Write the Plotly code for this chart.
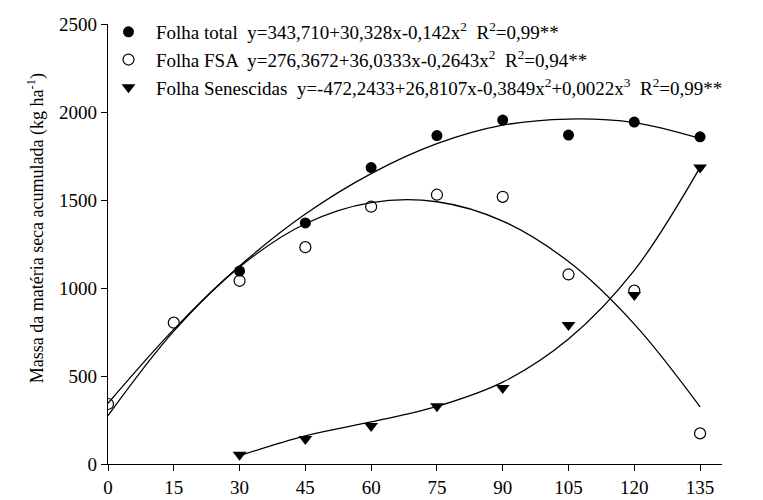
import plotly.graph_objects as go

# Observed data (days, kg/ha)
days = [0, 15, 30, 45, 60, 75, 90, 105, 120, 135]
folha_total = [None, None, 1096, 1370, 1684, 1866, 1954, 1869, 1943, 1859]
folha_fsa = [341, 803, 1041, 1232, 1462, 1530, 1518, 1077, 985, 174]
sen_days = [30, 45, 60, 75, 90, 105, 120, 135]
folha_sen = [52, 142, 216, 328, 432, 790, 960, 1685]

# Fitted curves
fit_days = [0, 15, 30, 45, 60, 75, 90, 105, 120, 135]
total_fit = [345, 765, 1125, 1420, 1650, 1820, 1925, 1960, 1940, 1850]
fsa_fit = [275, 755, 1120, 1365, 1485, 1490, 1380, 1150, 795, 325]
sen_fit_days = [30, 45, 60, 75, 90, 105, 120, 135]
sen_fit = [47, 160, 239, 327, 465, 710, 1100, 1685]

names = [
    "Folha total  y=343,710+30,328x-0,142x<sup>2</sup>  R<sup>2</sup>=0,99**",
    "Folha FSA  y=276,3672+36,0333x-0,2643x<sup>2</sup>  R<sup>2</sup>=0,94**",
    "Folha Senescidas  y=-472,2433+26,8107x-0,3849x<sup>2</sup>+0,0022x<sup>3</sup>  R<sup>2</sup>=0,99**",
]
x_ticks = [0, 15, 30, 45, 60, 75, 90, 105, 120, 135]
y_ticks = [0, 500, 1000, 1500, 2000, 2500]
y_title = "Massa da matéria seca acumulada (kg ha<sup>-1</sup>)"

FONT = "Liberation Serif, Times New Roman, serif"
line_style = dict(color="black", width=1.3, shape="spline", smoothing=1.0)

fig = go.Figure()
fig.add_trace(go.Scatter(x=fit_days, y=total_fit, mode="lines", line=line_style,
                         showlegend=False, hoverinfo="skip"))
fig.add_trace(go.Scatter(x=fit_days, y=fsa_fit, mode="lines", line=line_style,
                         showlegend=False, hoverinfo="skip"))
fig.add_trace(go.Scatter(x=sen_fit_days, y=sen_fit, mode="lines", line=line_style,
                         showlegend=False, hoverinfo="skip"))

fig.add_trace(go.Scatter(x=days, y=folha_total, mode="markers", name=names[0],
                         marker=dict(symbol="circle", size=11, color="black")))
fig.add_trace(go.Scatter(x=days, y=folha_fsa, mode="markers", name=names[1],
                         marker=dict(symbol="circle-open", size=11, color="black",
                                     line=dict(width=1.2, color="black"))))
fig.add_trace(go.Scatter(x=sen_days, y=folha_sen, mode="markers", name=names[2],
                         marker=dict(symbol="triangle-down", size=12, color="black")))

fig.update_layout(
    width=763, height=500,
    margin=dict(l=108, r=41, t=24, b=36),
    paper_bgcolor="white", plot_bgcolor="white",
    font=dict(family=FONT, size=19, color="black"),
    legend=dict(x=-0.0114, y=1.025, xanchor="left", yanchor="top",
                bgcolor="rgba(0,0,0,0)", font=dict(size=19, family=FONT),
                itemwidth=45),
    xaxis=dict(range=[0, 140], tickvals=x_ticks, ticktext=[str(v) for v in x_ticks],
               showgrid=False, zeroline=False, showline=True, linecolor="black",
               linewidth=1.2, ticks="outside", ticklen=6, tickcolor="black",
               tickfont=dict(size=19, family=FONT), automargin=False),
    yaxis=dict(range=[0, 2500], tickvals=y_ticks, ticktext=[str(v) for v in y_ticks],
               showgrid=False, zeroline=False, showline=True, linecolor="black",
               linewidth=1.2, ticks="outside", ticklen=6, tickcolor="black",
               tickfont=dict(size=19, family=FONT), automargin=False),
    annotations=[dict(text=y_title, xref="paper", yref="paper", x=-0.117, y=0.536,
                      xanchor="center", yanchor="middle", textangle=-90,
                      showarrow=False, font=dict(size=18, family=FONT))],
)

fig.write_html("out.html")
